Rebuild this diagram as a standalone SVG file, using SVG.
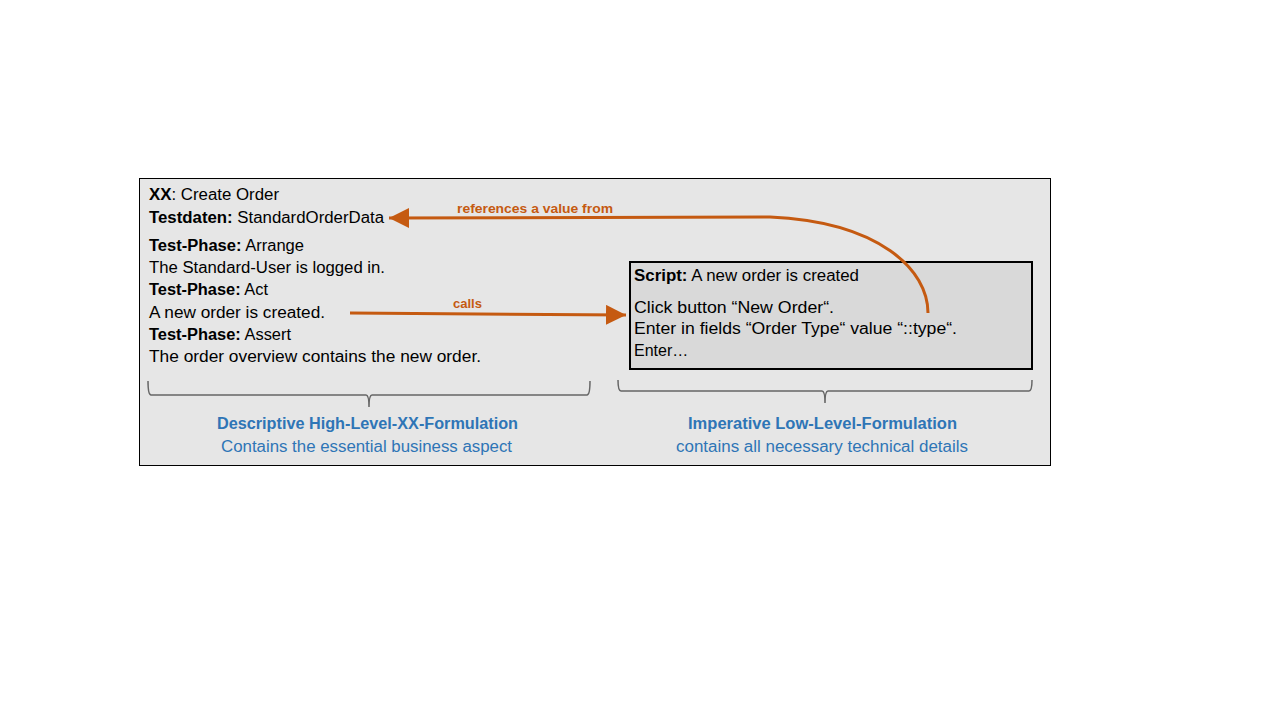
<svg xmlns="http://www.w3.org/2000/svg" width="1280" height="720" viewBox="0 0 1280 720">
<style>
.t{font-family:"Liberation Sans",Arial,sans-serif;font-size:16px;fill:#000}
.b{font-weight:bold}
.o{font-family:"Liberation Sans",Arial,sans-serif;font-size:13px;font-weight:bold;fill:#c55a11}
.bl{font-family:"Liberation Sans",Arial,sans-serif;font-size:16px;fill:#2e75b6}
.br{fill:none;stroke:#666;stroke-width:1.5}
.c{fill:none;stroke:#c55a11;stroke-width:3}
</style>
<defs>
<marker id="ah" markerUnits="userSpaceOnUse" markerWidth="22" markerHeight="22" refX="20" refY="10" orient="auto">
<path d="M0,0 L20,10 L0,20 Z" fill="#c55a11"/>
</marker>
</defs>
<rect width="1280" height="720" fill="#fff"/>
<g id="container">
<rect x="139.5" y="178.5" width="911" height="287" fill="#e6e6e6" stroke="#000" stroke-width="1"/>
</g>
<g id="highlevel">
<text class="t" x="149" y="200" textLength="130" lengthAdjust="spacingAndGlyphs"><tspan class="b">XX</tspan>: Create Order</text>
<text class="t" x="149" y="223" textLength="235" lengthAdjust="spacingAndGlyphs"><tspan class="b">Testdaten:</tspan> StandardOrderData</text>
<text class="t" x="149" y="251" textLength="155" lengthAdjust="spacingAndGlyphs"><tspan class="b">Test-Phase:</tspan> Arrange</text>
<text class="t" x="149" y="273" textLength="236" lengthAdjust="spacingAndGlyphs">The Standard-User is logged in.</text>
<text class="t" x="149" y="295" textLength="119" lengthAdjust="spacingAndGlyphs"><tspan class="b">Test-Phase:</tspan> Act</text>
<text class="t" x="149" y="318" textLength="176" lengthAdjust="spacingAndGlyphs">A new order is created.</text>
<text class="t" x="149" y="340" textLength="142" lengthAdjust="spacingAndGlyphs"><tspan class="b">Test-Phase:</tspan> Assert</text>
<text class="t" x="149" y="362" textLength="332" lengthAdjust="spacingAndGlyphs">The order overview contains the new order.</text>
</g>
<g id="script">
<rect x="630" y="262" width="402" height="107" fill="#d9d9d9" stroke="#000" stroke-width="2"/>
<text class="t" x="634" y="281" textLength="225" lengthAdjust="spacingAndGlyphs"><tspan class="b">Script:</tspan> A new order is created</text>
<text class="t" x="634" y="313" textLength="200" lengthAdjust="spacingAndGlyphs">Click button “New Order“.</text>
<text class="t" x="634" y="334" textLength="323" lengthAdjust="spacingAndGlyphs">Enter in fields “Order Type“ value “::type“.</text>
<text class="t" x="634" y="356">Enter…</text>
</g>
<g id="connectors">
<path class="c" d="M350,313 L626,315" marker-end="url(#ah)"/>
<text class="o" x="453" y="308" textLength="29" lengthAdjust="spacingAndGlyphs">calls</text>
<path class="c" d="M928,313 C928,270 880,222 770,217 L389,218" marker-end="url(#ah)"/>
<text class="o" x="457" y="213" textLength="156" lengthAdjust="spacingAndGlyphs">references a value from</text>
</g>
<g id="brace-left">
<path class="br" d="M148,381 Q148,395 151,395 L366,395 Q369,395 369,407 Q369,395 372,395 L587,395 Q590,395 590,381"/>
<text class="bl b" x="217" y="429" textLength="301" lengthAdjust="spacingAndGlyphs">Descriptive High-Level-XX-Formulation</text>
<text class="bl" x="221" y="452" textLength="291" lengthAdjust="spacingAndGlyphs">Contains the essential business aspect</text>
</g>
<g id="brace-right">
<path class="br" d="M618,380 Q618,391 621,391 L822,391 Q825,391 825,403 Q825,391 828,391 L1029,391 Q1032,391 1032,380"/>
<text class="bl b" x="688" y="429" textLength="269" lengthAdjust="spacingAndGlyphs">Imperative Low-Level-Formulation</text>
<text class="bl" x="676" y="452" textLength="292" lengthAdjust="spacingAndGlyphs">contains all necessary technical details</text>
</g>
</svg>
